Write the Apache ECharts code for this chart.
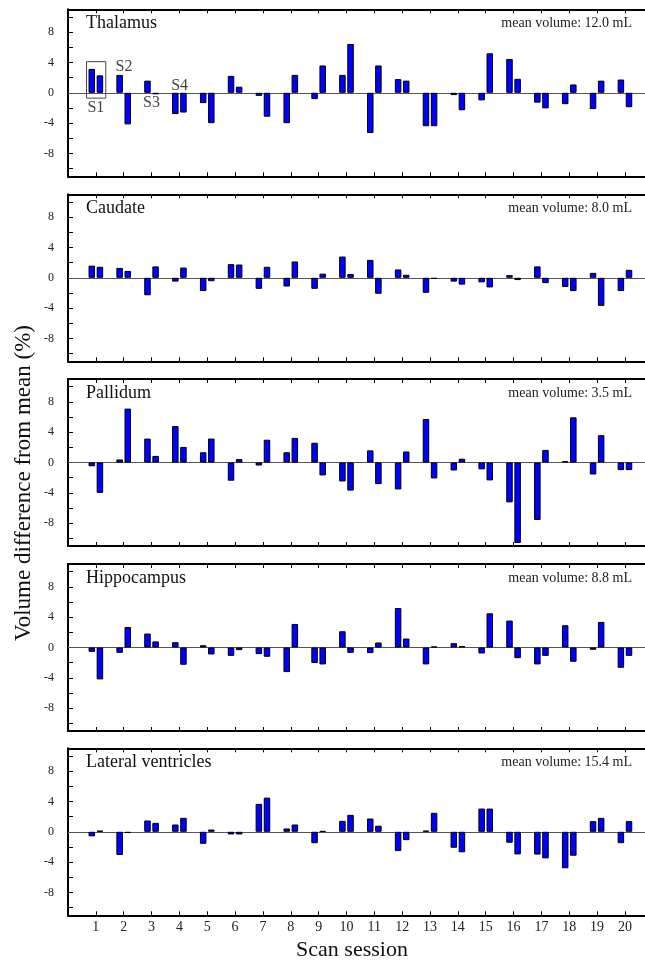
<!DOCTYPE html>
<html>
<head>
<meta charset="utf-8">
<script src="https://cdn.jsdelivr.net/npm/echarts@6/dist/echarts.min.js"></script>
<style>html,body{margin:0;padding:0;background:#fff;}#chart{width:645px;height:963px;}</style>
</head>
<body>
<div id="chart"></div>
<script>
// ---- data ----
const sessions = [1,2,3,4,5,6,7,8,9,10,11,12,13,14,15,16,17,18,19,20];
const regionNames = ['Thalamus','Caudate','Pallidum','Hippocampus','Lateral ventricles'];
const meanVolumes = ['mean volume: 12.0 mL','mean volume: 8.0 mL','mean volume: 3.5 mL','mean volume: 8.8 mL','mean volume: 15.4 mL'];
const yTickValues = [-10,-8,-6,-4,-2,0,2,4,6,8,10];
const yLabelValues = [-8,-4,0,4,8];

const thalamusA    = [3.15, 2.36, 1.6, -2.8, -1.36, 2.23, -0.4, -4.0, -0.83, 2.36, -5.3, 1.8, -4.4, -0.3, -1.0, 4.46, -1.3, -1.5, -2.15, 1.75];
const thalamusB    = [2.3, -4.16, -0.2, -2.6, -4.0, 0.8, -3.15, 2.36, 3.6, 6.43, 3.6, 1.6, -4.4, -2.3, 5.2, 1.84, -2.05, 1.1, 1.6, -1.9];
const caudateA     = [1.6, 1.3, -2.3, -0.5, -1.75, 1.8, -1.45, -1.15, -1.45, 2.8, 2.36, 1.1, -1.97, -0.5, -0.6, 0.35, 1.5, -1.2, 0.65, -1.75];
const caudateB     = [1.45, 0.9, 1.5, 1.35, -0.45, 1.75, 1.45, 2.15, 0.55, 0.5, -2.1, 0.4, -0.15, -0.9, -1.27, -0.3, -0.7, -1.75, -3.7, 1.05];
const pallidumA    = [-0.5, 0.4, 3.15, 4.8, 1.35, -2.4, -0.4, 1.35, 2.6, -2.5, 1.6, -3.55, 5.73, -1.05, -0.9, -5.25, -7.57, 0.17, -1.58, -1.0];
const pallidumB    = [-4.0, 7.1, 0.87, 2.05, 3.15, 0.45, 3.0, 3.24, -1.7, -3.7, -2.85, 1.45, -2.1, 0.5, -2.36, -10.6, 1.66, 5.95, 3.6, -1.0];
const hippocampusA = [-0.57, -0.7, 1.84, 0.7, 0.3, -1.1, -0.87, -3.24, -2.05, 2.14, -0.74, 5.2, -2.23, 0.57, -0.79, 3.55, -2.23, 2.93, -0.3, -2.67];
const hippocampusB = [-4.2, 2.7, 0.8, -2.27, -0.92, -0.35, -1.22, 3.1, -2.23, -0.7, 0.66, 1.18, 0.13, 0.18, 4.5, -1.4, -1.1, -1.88, 3.37, -1.1];
const ventriclesA  = [-0.6, -3.06, 1.49, 0.96, -1.58, -0.35, 3.68, 0.44, -1.5, 1.44, 1.75, -2.54, 0.17, -2.1, 3.06, -1.44, -3.0, -4.8, 1.4, -1.5];
const ventriclesB  = [0.17, -0.17, 1.18, 1.84, 0.3, -0.35, 4.5, 0.96, 0.1, 2.23, 0.8, -1.1, 2.5, -2.7, 3.06, -2.98, -3.5, -3.15, 1.84, 1.4];

// annotation labels (data coordinates in Thalamus panel)
const subjectLabels = [['S1', 1.0, -2.0], ['S2', 2.01, 3.37], ['S3', 3.0, -1.35], ['S4', 4.01, 0.96]];
const s1Box = [[0.665, 4.1], [1.357, -0.7]];

const pairs = [[thalamusA, thalamusB],[caudateA, caudateB],[pallidumA, pallidumB],[hippocampusA, hippocampusB],[ventriclesA, ventriclesB]];

// ---- layout ----
const FONT = 'Liberation Serif';
const gridLeft = 68;
const xMax = 20.72;   // plot continues past the right edge of the picture
const panelTops = [9.3, 194.3, 379, 564, 748.3];
const panelH = 167;

const sessionLabel = v => (v >= 1 && v <= 20 && Math.round(v) === v) ? String(v) : '';

const grids = [], xAxes = [], yAxes = [], series = [], titles = [];
panelTops.forEach((top, i) => {
  grids.push({left: gridLeft, top: top, right: 0, height: panelH, show: false});
  const isLast = i === panelTops.length - 1;
  // bottom x axis
  xAxes.push({
    type: 'value', gridIndex: i, min: 0, max: xMax, interval: 1, position: 'bottom',
    axisLine: {show: true, onZero: false, lineStyle: {color: '#000', width: 2}},
    axisTick: {show: true, inside: true, length: 4, lineStyle: {color: '#000', width: 1}},
    axisLabel: {show: isLast, formatter: sessionLabel, color: '#222', fontFamily: FONT, fontSize: 14, margin: 5, showMaxLabel: false},
    splitLine: {show: false}
  });
  // top x axis
  xAxes.push({
    type: 'value', gridIndex: i, min: 0, max: xMax, interval: 1, position: 'top',
    axisLine: {show: true, onZero: false, lineStyle: {color: '#000', width: 2}},
    axisTick: {show: true, inside: true, length: 4, lineStyle: {color: '#000', width: 1}},
    axisLabel: {show: false},
    splitLine: {show: false}
  });
  yAxes.push({
    type: 'value', gridIndex: i, min: -11, max: 11,
    axisLine: {show: true, onZero: false, lineStyle: {color: '#000', width: 2}},
    axisTick: {show: true, inside: true, length: 5, lineStyle: {color: '#000', width: 1}, customValues: yTickValues},
    axisLabel: {show: true, customValues: yLabelValues, color: '#222', fontFamily: FONT, fontSize: 12, margin: 14},
    splitLine: {show: false}
  });
  const barStyle = {color: '#0000ff', borderColor: '#000', borderWidth: 1};
  const [a, b] = pairs[i];
  series.push({
    type: 'bar', xAxisIndex: i * 2, yAxisIndex: i,
    data: sessions.map((s, k) => [s, a[k]]),
    barWidth: 6.5, barGap: '25%', itemStyle: barStyle, silent: true, z: 3,
    markLine: {
      silent: true, symbol: 'none', label: {show: false}, z: 1,
      lineStyle: {color: '#555', width: 1.2, type: 'solid'},
      data: [{yAxis: 0}]
    },
    markArea: i === 0 ? {
      silent: true,
      itemStyle: {color: 'rgba(0,0,0,0)', borderColor: '#444', borderWidth: 1},
      data: [[{coord: s1Box[0]}, {coord: s1Box[1]}]]
    } : undefined
  });
  series.push({
    type: 'bar', xAxisIndex: i * 2, yAxisIndex: i,
    data: sessions.map((s, k) => [s, b[k]]),
    barWidth: 6.5, barGap: '25%', itemStyle: barStyle, silent: true, z: 3
  });
  titles.push({
    text: regionNames[i], left: 86, top: top + 5, padding: 0,
    textStyle: {fontFamily: FONT, fontSize: 18, fontWeight: 'normal', color: '#111'}
  });
  titles.push({
    text: meanVolumes[i], right: 13, top: top + 7.5, padding: 0,
    textStyle: {fontFamily: FONT, fontSize: 14, fontWeight: 'normal', color: '#222'}
  });
});

// subject annotation labels
series.push({
  type: 'scatter', xAxisIndex: 0, yAxisIndex: 0, symbolSize: 0, silent: true,
  data: subjectLabels.map(d => ({value: [d[1], d[2]], name: d[0]})),
  label: {show: true, position: 'inside', formatter: p => p.name, fontFamily: FONT, fontSize: 16, color: '#111'}
});

const chart = echarts.init(document.getElementById('chart'), null, {renderer: 'canvas'});
chart.setOption({
  animation: false,
  backgroundColor: '#fff',
  title: titles,
  grid: grids,
  xAxis: xAxes,
  yAxis: yAxes,
  series: series,
  graphic: [
    {type: 'text', x: 24, y: 483, rotation: Math.PI / 2,
     style: {text: 'Volume difference from mean (%)', fontFamily: FONT, fontSize: 23, fill: '#111', align: 'center', verticalAlign: 'middle'}},
    {type: 'text', x: 352, y: 950,
     style: {text: 'Scan session', fontFamily: FONT, fontSize: 22, fill: '#111', align: 'center', verticalAlign: 'middle'}}
  ]
});
</script>
</body>
</html>
